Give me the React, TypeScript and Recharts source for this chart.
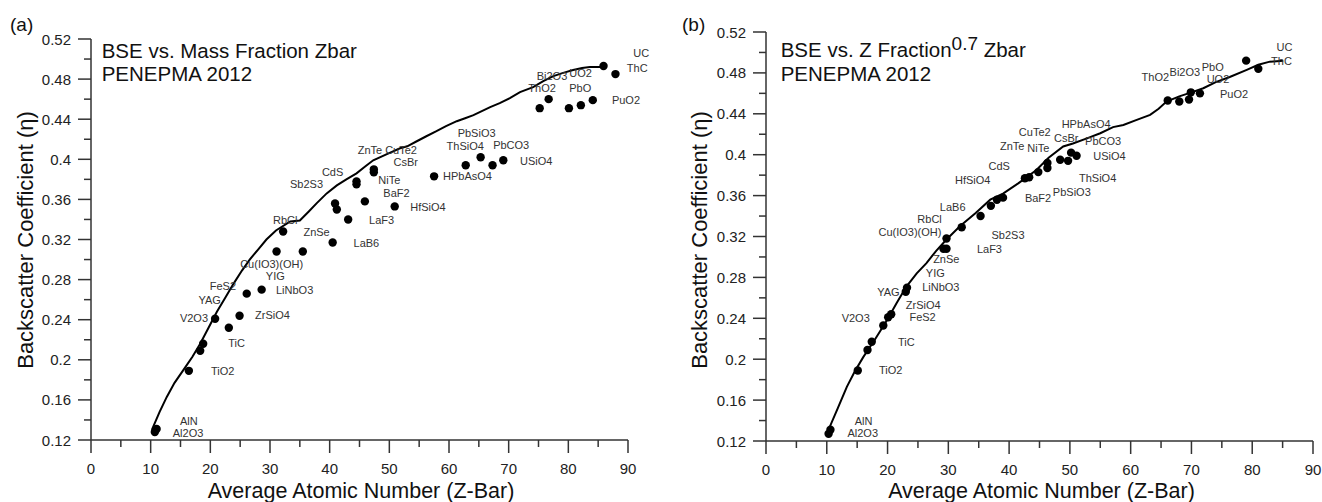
import React from "react";
import { ScatterChart, Scatter, XAxis, YAxis, ReferenceDot } from "recharts";

const FONT = '"Liberation Sans", Arial, Helvetica, sans-serif';
const INK = "#333";

// axis ticks: minor every 5 / 0.02, labels only on the majors
const zTicks = [0, 5, 10, 15, 20, 25, 30, 35, 40, 45, 50, 55, 60, 65, 70, 75, 80, 85, 90];
const etaTicks = [
  0.12, 0.14, 0.16, 0.18, 0.2, 0.22, 0.24, 0.26, 0.28, 0.3, 0.32, 0.34, 0.36, 0.38, 0.4, 0.42,
  0.44, 0.46, 0.48, 0.5, 0.52,
];

// (a) measured compounds vs. mass fraction Zbar  [Zbar, eta]
const massPoints: [number, number][] = [
  [10.7, 0.128], [11.0, 0.131], [16.4, 0.189], [18.3, 0.209], [18.8, 0.216], [20.8, 0.241],
  [23.1, 0.232], [24.9, 0.244], [26.1, 0.266], [28.6, 0.27], [31.1, 0.308], [32.2, 0.328],
  [35.5, 0.308], [40.5, 0.317], [40.9, 0.356], [41.2, 0.35], [43.1, 0.34], [44.5, 0.378],
  [44.5, 0.375], [45.9, 0.358], [47.4, 0.39], [47.4, 0.387], [50.9, 0.353], [57.5, 0.383],
  [62.8, 0.394], [65.3, 0.402], [67.3, 0.394], [69.1, 0.399], [75.2, 0.451], [76.7, 0.46],
  [80.1, 0.451], [82.1, 0.454], [84.1, 0.459], [85.9, 0.493], [87.9, 0.485],
];

// PENEPMA pure element curve
const massCurve: [number, number][] = [
  [10.2, 0.13], [11.5, 0.148], [12.7, 0.163], [14.0, 0.177], [15.5, 0.19], [17.0, 0.203],
  [18.3, 0.216], [19.7, 0.232], [21.1, 0.248], [22.5, 0.262], [23.9, 0.276], [25.3, 0.289],
  [26.6, 0.3], [28.0, 0.31], [29.4, 0.32], [31.0, 0.329], [33.4, 0.338], [35.0, 0.339],
  [36.5, 0.348], [37.8, 0.356], [39.5, 0.366], [41.2, 0.374], [42.8, 0.38], [44.5, 0.386],
  [46.0, 0.393], [47.3, 0.399], [49.5, 0.405], [51.8, 0.411], [53.0, 0.413], [54.6, 0.418],
  [56.2, 0.423], [57.9, 0.428], [59.5, 0.433], [61.3, 0.438], [62.7, 0.441], [64.1, 0.444],
  [65.5, 0.448], [66.9, 0.452], [68.5, 0.456], [70.2, 0.461], [71.9, 0.467], [74.1, 0.472],
  [75.8, 0.478], [77.5, 0.483], [79.0, 0.486], [80.8, 0.489], [82.3, 0.491], [83.6, 0.492],
  [85.7, 0.492],
];

const massLabels: [string, number, number][] = [
  ["AlN", 14.9, 0.1393], ["Al2O3", 13.7, 0.1273], ["TiO2", 20.1, 0.189], ["TiC", 23.0, 0.2172],
  ["V2O3", 14.9, 0.2412], ["YAG", 18.0, 0.2596], ["FeS2", 19.9, 0.2736], ["ZrSiO4", 27.5, 0.2446],
  ["LiNbO3", 31.0, 0.2696], ["YIG", 29.3, 0.2836], ["Cu(IO3)(OH)", 25.0, 0.2957],
  ["RbCl", 30.5, 0.3395], ["ZnSe", 35.6, 0.3279], ["Sb2S3", 33.35, 0.3756], ["CdS", 38.7, 0.3876],
  ["LaB6", 44.0, 0.317], ["LaF3", 46.6, 0.3395], ["BaF2", 49.0, 0.3663], ["HfSiO4", 53.5, 0.3529],
  ["NiTe", 48.15, 0.3792], ["CsBr", 50.7, 0.3972], ["ZnTe", 44.7, 0.4092], ["CuTe2", 49.3, 0.4092],
  ["HPbAsO4", 59.0, 0.3832], ["ThSiO4", 59.6, 0.413], ["PbSiO3", 61.45, 0.4263],
  ["PbCO3", 67.4, 0.4139], ["USiO4", 71.9, 0.3983], ["Bi2O3", 74.7, 0.4831], ["UO2", 80.15, 0.4864],
  ["ThO2", 73.3, 0.4707], ["PbO", 80.15, 0.4714], ["PuO2", 87.3, 0.459], ["UC", 90.9, 0.5057],
  ["ThC", 89.8, 0.4912],
];

// (b) same compounds vs. Z^0.7 fraction Zbar
const zFracPoints: [number, number][] = [
  [10.3, 0.127], [10.6, 0.131], [15.1, 0.189], [16.7, 0.209], [17.4, 0.217], [19.3, 0.233],
  [20.1, 0.241], [20.6, 0.244], [23.0, 0.266], [23.2, 0.27], [29.2, 0.308], [29.7, 0.308],
  [29.7, 0.318], [32.2, 0.329], [35.3, 0.34], [37.0, 0.35], [38.0, 0.356], [39.0, 0.358],
  [42.6, 0.377], [43.3, 0.378], [44.8, 0.383], [46.3, 0.392], [46.3, 0.387], [48.4, 0.395],
  [49.7, 0.394], [50.2, 0.402], [51.1, 0.399], [66.1, 0.453], [68.0, 0.452], [69.6, 0.454],
  [69.9, 0.461], [71.4, 0.46], [79.0, 0.492], [81.0, 0.484],
];

const zFracCurve: [number, number][] = [
  [10.4, 0.13], [10.5, 0.134], [11.8, 0.152], [13.3, 0.173], [14.6, 0.188], [16.0, 0.202],
  [18.0, 0.22], [19.9, 0.238], [21.5, 0.255], [23.1, 0.271], [24.8, 0.284], [26.4, 0.294],
  [28.0, 0.306], [29.7, 0.317], [31.9, 0.33], [34.5, 0.343], [36.9, 0.356], [39.0, 0.362],
  [41.5, 0.372], [44.5, 0.385], [46.5, 0.397], [48.9, 0.408], [50.5, 0.411], [52.8, 0.416],
  [55.0, 0.421], [57.1, 0.427], [58.8, 0.429], [61.0, 0.434], [63.2, 0.439], [64.6, 0.445],
  [65.9, 0.452], [68.0, 0.457], [70.0, 0.461], [71.95, 0.465], [74.0, 0.471], [76.3, 0.476],
  [79.1, 0.483], [81.0, 0.488], [82.9, 0.491], [85.1, 0.492],
];

const zFracLabels: [string, number, number][] = [
  ["AlN", 14.6, 0.1396], ["Al2O3", 13.4, 0.1275], ["TiO2", 18.6, 0.1894], ["TiC", 21.7, 0.2171],
  ["V2O3", 12.45, 0.24], ["YAG", 18.3, 0.266], ["ZrSiO4", 23.0, 0.253], ["FeS2", 23.6, 0.241],
  ["LiNbO3", 25.7, 0.2703], ["YIG", 26.3, 0.284], ["ZnSe", 27.5, 0.2977], ["LaF3", 34.7, 0.3075],
  ["Sb2S3", 37.1, 0.3215], ["Cu(IO3)(OH)", 18.5, 0.3241], ["RbCl", 24.9, 0.3371],
  ["LaB6", 28.6, 0.3491], ["HfSiO4", 31.1, 0.3753], ["CdS", 36.6, 0.3892], ["ZnTe", 38.5, 0.4088],
  ["NiTe", 43.0, 0.4068], ["CuTe2", 41.6, 0.4219], ["CsBr", 47.4, 0.416], ["HPbAsO4", 48.65, 0.4297],
  ["PbCO3", 52.5, 0.4137], ["USiO4", 53.85, 0.399], ["ThSiO4", 51.5, 0.3769], ["BaF2", 42.6, 0.3579],
  ["PbSiO3", 47.2, 0.3632], ["ThO2", 61.8, 0.4757], ["Bi2O3", 66.4, 0.4812], ["PbO", 71.7, 0.4861],
  ["UO2", 72.5, 0.474], ["PuO2", 74.7, 0.4594], ["UC", 84.0, 0.5056], ["ThC", 83.1, 0.4916],
];

const toXY = (arr: [number, number][]) => arr.map(([x, y]) => ({ x, y }));

// y ticks: labelled every 0.04, short marks in between
function EtaTick({ x, y, payload }: any) {
  const axisX = x + 20;
  const major = Math.round(payload.value * 100) % 4 === 0;
  return (
    <g>
      <line x1={axisX} x2={axisX - (major ? 13 : 7)} y1={y} y2={y} stroke={INK} strokeWidth={1.5} />
      {major && (
        <text x={x} y={y} textAnchor="end" dominantBaseline="central" fontSize={15} fill="#222" fontFamily={FONT}>
          {String(payload.value)}
        </text>
      )}
    </g>
  );
}

function ZTick({ x, y, payload }: any) {
  const axisY = y - 23;
  const major = payload.value % 10 === 0;
  return (
    <g>
      <line x1={x} x2={x} y1={axisY} y2={axisY + (major ? 13 : 7)} stroke={INK} strokeWidth={1.5} />
      {major && (
        <text x={x} y={y} dy="0.72em" textAnchor="middle" fontSize={15} fill="#222" fontFamily={FONT}>
          {payload.value}
        </text>
      )}
    </g>
  );
}

interface PanelProps {
  points: [number, number][];
  curve: [number, number][];
  labels: [string, number, number][];
  width: number;
  top: number;
  right: number;
  yAxisWidth: number;
  xAxisHeight: number;
}

function Panel({ points, curve, labels, width, top, right, yAxisWidth, xAxisHeight }: PanelProps) {
  return (
    <ScatterChart width={width} height={502} margin={{ top, right, bottom: 0, left: 0 }}>
      <XAxis
        type="number"
        dataKey="x"
        domain={[0, 90]}
        ticks={zTicks}
        interval={0}
        height={xAxisHeight}
        tickSize={13}
        tickMargin={10}
        tickLine={false}
        axisLine={{ stroke: INK, strokeWidth: 1.5 }}
        tick={<ZTick />}
      />
      <YAxis
        type="number"
        dataKey="y"
        domain={[0.12, 0.52]}
        ticks={etaTicks}
        interval={0}
        width={yAxisWidth}
        tickSize={13}
        tickMargin={7}
        tickLine={false}
        axisLine={{ stroke: INK, strokeWidth: 1.5 }}
        tick={<EtaTick />}
      />
      <Scatter
        data={toXY(curve)}
        line={{ stroke: "#000", strokeWidth: 2 }}
        shape={() => <g />}
        isAnimationActive={false}
      />
      <Scatter
        data={toXY(points)}
        shape={(p: any) => <circle cx={p.cx} cy={p.cy} r={4.2} fill="#000" />}
        isAnimationActive={false}
      />
      {labels.map(([name, x, y]) => (
        <ReferenceDot
          key={name}
          x={x}
          y={y}
          ifOverflow="visible"
          shape={(p: any) => (
            <text x={p.cx} y={p.cy} dominantBaseline="central" fontSize={11} fill="#333" fontFamily={FONT}>
              {name}
            </text>
          )}
        />
      ))}
    </ScatterChart>
  );
}

export default function App() {
  return (
    <div
      style={{
        position: "absolute",
        left: 0,
        top: 0,
        width: 1322,
        height: 502,
        background: "#fff",
        fontFamily: FONT,
        overflow: "hidden",
      }}
    >
      <div style={{ position: "absolute", left: 0, top: 0 }}>
        <Panel points={massPoints} curve={massCurve} labels={massLabels} width={660} top={39} right={32} yAxisWidth={91} xAxisHeight={62} />
      </div>
      <div style={{ position: "absolute", left: 660, top: 0 }}>
        <Panel points={zFracPoints} curve={zFracCurve} labels={zFracLabels} width={662} top={32} right={9} yAxisWidth={106} xAxisHeight={61} />
      </div>
      <svg width={1322} height={502} style={{ position: "absolute", left: 0, top: 0, pointerEvents: "none" }} fontFamily={FONT} fill="#111">
        <text x={10} y={31} fontSize={19}>(a)</text>
        <text x={682} y={31} fontSize={19}>(b)</text>

        <text x={101.7} y={58.3} fontSize={20.5}>BSE vs. Mass Fraction Zbar</text>
        <text x={101.7} y={81} fontSize={20.5}>PENEPMA 2012</text>

        <text x={780.7} y={57} fontSize={20.5}>
          BSE vs. Z Fraction
          <tspan dy={-7} fontSize={19}>0.7</tspan>
          <tspan dy={7}> Zbar</tspan>
        </text>
        <text x={780.7} y={81} fontSize={20.5}>PENEPMA 2012</text>

        <text x={361} y={497.5} fontSize={21.5} textAnchor="middle">Average Atomic Number (Z-Bar)</text>
        <text x={1041.5} y={497.5} fontSize={21.5} textAnchor="middle">Average Atomic Number (Z-Bar)</text>

        <text x={33} y={240} fontSize={22} textAnchor="middle" transform="rotate(-90 33 240)">
          Backscatter Coefficient (η)
        </text>
        <text x={707} y={240} fontSize={22} textAnchor="middle" transform="rotate(-90 707 240)">
          Backscatter Coefficient (η)
        </text>
      </svg>
    </div>
  );
}
